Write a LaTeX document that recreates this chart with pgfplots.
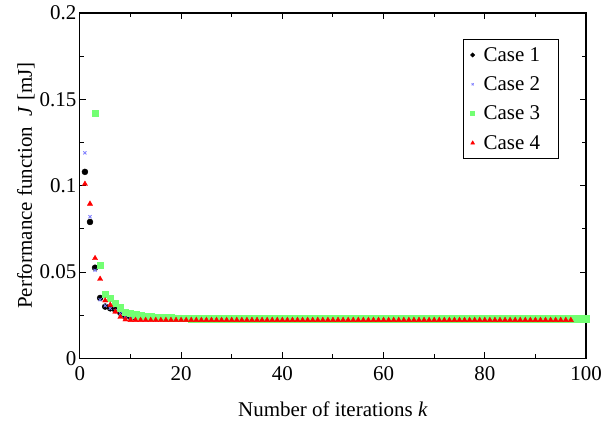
\documentclass[border=0pt]{standalone}
\usepackage{pgfplots}
\pgfplotsset{compat=1.18}
\usepackage{pgfplotstable}
\usepackage{fontspec}
\setmainfont{Liberation Serif}
\pgfplotstableread{
k c1 c2 c3 c4
1 0.108 0.119 nan 0.101
2 0.079 0.082 nan 0.0895
3 0.0525 0.051 0.142 0.058
4 0.035 0.034 0.054 0.046
5 0.030 0.0305 0.037 0.0335
6 0.029 0.029 0.0347 0.031
7 0.028 0.0275 0.032 0.027
8 0.0264 0.026 0.0293 0.024
9 0.0245 0.0245 0.0268 0.0225
10 0.024 0.024 0.026 0.0222
11 0.0238 0.0237 0.0252 0.0222
12 0.0236 0.0235 0.0248 0.0222
13 0.0235 0.0234 0.0245 0.0222
14 0.0234 0.0233 0.0242 0.0222
15 0.0233 0.0233 0.0240 0.0222
16 0.0233 0.0232 0.0238 0.0222
17 0.0233 0.0232 0.0236 0.0222
18 0.0233 0.0232 0.0235 0.0222
19 0.0233 0.0232 0.0234 0.0222
20 0.0233 0.0232 0.0233 0.0222
21 0.0232 0.0232 0.0232 0.0222
22 0.0232 0.0232 0.0231 0.0222
23 0.0232 0.0232 0.0231 0.0222
24 0.0232 0.0232 0.0231 0.0222
25 0.0232 0.0232 0.0231 0.0222
26 0.0232 0.0232 0.0231 0.0222
27 0.0232 0.0232 0.0231 0.0222
28 0.0232 0.0232 0.0231 0.0222
29 0.0232 0.0232 0.0231 0.0222
30 0.0232 0.0232 0.0231 0.0222
31 0.0232 0.0232 0.0231 0.0222
32 0.0232 0.0232 0.0231 0.0222
33 0.0232 0.0232 0.0231 0.0222
34 0.0232 0.0232 0.0231 0.0222
35 0.0232 0.0232 0.0231 0.0222
36 0.0232 0.0232 0.0231 0.0222
37 0.0232 0.0232 0.0231 0.0222
38 0.0232 0.0232 0.0231 0.0222
39 0.0232 0.0232 0.0231 0.0222
40 0.0232 0.0232 0.0231 0.0222
41 0.0232 0.0232 0.0231 0.0222
42 0.0232 0.0232 0.0231 0.0222
43 0.0232 0.0232 0.0231 0.0222
44 0.0232 0.0232 0.0231 0.0222
45 0.0232 0.0232 0.0231 0.0222
46 0.0232 0.0232 0.0231 0.0222
47 0.0232 0.0232 0.0231 0.0222
48 0.0232 0.0232 0.0231 0.0222
49 0.0232 0.0232 0.0231 0.0222
50 0.0232 0.0232 0.0231 0.0222
51 0.0232 0.0232 0.0231 0.0222
52 0.0232 0.0232 0.0231 0.0222
53 0.0232 0.0232 0.0231 0.0222
54 0.0232 0.0232 0.0231 0.0222
55 0.0232 0.0232 0.0231 0.0222
56 0.0232 0.0232 0.0231 0.0222
57 0.0232 0.0232 0.0231 0.0222
58 0.0232 0.0232 0.0231 0.0222
59 0.0232 0.0232 0.0231 0.0222
60 0.0232 0.0232 0.0231 0.0222
61 0.0232 0.0232 0.0231 0.0222
62 0.0232 0.0232 0.0231 0.0222
63 0.0232 0.0232 0.0231 0.0222
64 0.0232 0.0232 0.0231 0.0222
65 0.0232 0.0232 0.0231 0.0222
66 0.0232 0.0232 0.0231 0.0222
67 0.0232 0.0232 0.0231 0.0222
68 0.0232 0.0232 0.0231 0.0222
69 0.0232 0.0232 0.0231 0.0222
70 0.0232 0.0232 0.0231 0.0222
71 0.0232 0.0232 0.0231 0.0222
72 0.0232 0.0232 0.0231 0.0222
73 0.0232 0.0232 0.0231 0.0222
74 0.0232 0.0232 0.0231 0.0222
75 0.0232 0.0232 0.0231 0.0222
76 0.0232 0.0232 0.0231 0.0222
77 0.0232 0.0232 0.0231 0.0222
78 0.0232 0.0232 0.0231 0.0222
79 0.0232 0.0232 0.0231 0.0222
80 0.0232 0.0232 0.0231 0.0222
81 0.0232 0.0232 0.0231 0.0222
82 0.0232 0.0232 0.0231 0.0222
83 0.0232 0.0232 0.0231 0.0222
84 0.0232 0.0232 0.0231 0.0222
85 0.0232 0.0232 0.0231 0.0222
86 0.0232 0.0232 0.0231 0.0222
87 0.0232 0.0232 0.0231 0.0222
88 0.0232 0.0232 0.0231 0.0222
89 0.0232 0.0232 0.0231 0.0222
90 0.0232 0.0232 0.0231 0.0222
91 0.0232 0.0232 0.0231 0.0222
92 0.0232 0.0232 0.0231 0.0222
93 0.0232 0.0232 0.0231 0.0222
94 0.0232 0.0232 0.0231 0.0222
95 0.0232 0.0232 0.0231 0.0222
96 0.0232 0.0232 0.0231 0.0222
97 0.0232 0.0232 0.0231 0.0222
98 0.0232 0.0232 0.0231 nan
99 0.0232 0.0232 0.0231 nan
100 0.0232 0.0232 0.0231 nan
}\datatable
\definecolor{cblue}{rgb}{0.5,0.5,1}
\definecolor{cgreen}{rgb}{0.45,1,0.45}
\begin{document}
\begin{tikzpicture}
\begin{axis}[
  scale only axis, width=507pt, height=346pt,
  xmin=0, xmax=100, ymin=0, ymax=0.2,
  xtick={0,20,...,100}, ytick={0,0.05,0.1,0.15,0.2},
  yticklabels={0,0.05,0.1,0.15,0.2},
  minor x tick num=1, minor y tick num=1,
  tick align=inside, major tick length=6pt, minor tick length=4pt,
  axis line style={line width=1.2pt}, tick style={line width=1pt, black},
  font=\fontsize{21}{25}\selectfont,
  tick label style={font=\fontsize{21}{25}\selectfont},
  xticklabel style={yshift=-5pt},
  /pgf/number format/assume math mode=true,
  xlabel={Number of iterations \textit{k}},
  ylabel={Performance function \ \textit{J} [mJ]},
  xlabel style={yshift=-14pt},
  ylabel style={yshift=-2pt},
  legend style={at={(0.9465,0.925)}, anchor=north east, draw=black, line width=0.8pt,
    font=\fontsize{21}{25}\selectfont, row sep=10pt, inner xsep=3pt, inner ysep=6pt},
  legend image code/.code={\path[draw=none,fill=none] (0pt,-4pt) (15pt,4pt);
    \draw[#1, mark options={scale=0.65}] plot coordinates {(6pt,0pt)};},
  legend cell align=left,
]
\addplot[only marks, mark=*, mark size=3pt, black] table[x=k, y=c1] {\datatable};
\addlegendentry{\makebox[70pt][l]{Case 1}}
\addplot[only marks, mark=x, mark size=2.2pt, cblue, line width=0.8pt] table[x=k, y=c2] {\datatable};
\addlegendentry{\makebox[70pt][l]{Case 2}}
\addplot[only marks, mark=square*, mark size=3.2pt, cgreen] table[x=k, y=c3] {\datatable};
\addlegendentry{\makebox[70pt][l]{Case 3}}
\addplot[only marks, mark=triangle*, mark size=3pt, red] table[x=k, y=c4] {\datatable};
\addlegendentry{\makebox[70pt][l]{Case 4}}
\end{axis}
\pgfresetboundingbox
\path[use as bounding box] ([shift={(-80pt,-62pt)}]current axis.south west) rectangle ([shift={(16pt,13pt)}]current axis.north east);
\end{tikzpicture}
\end{document}
